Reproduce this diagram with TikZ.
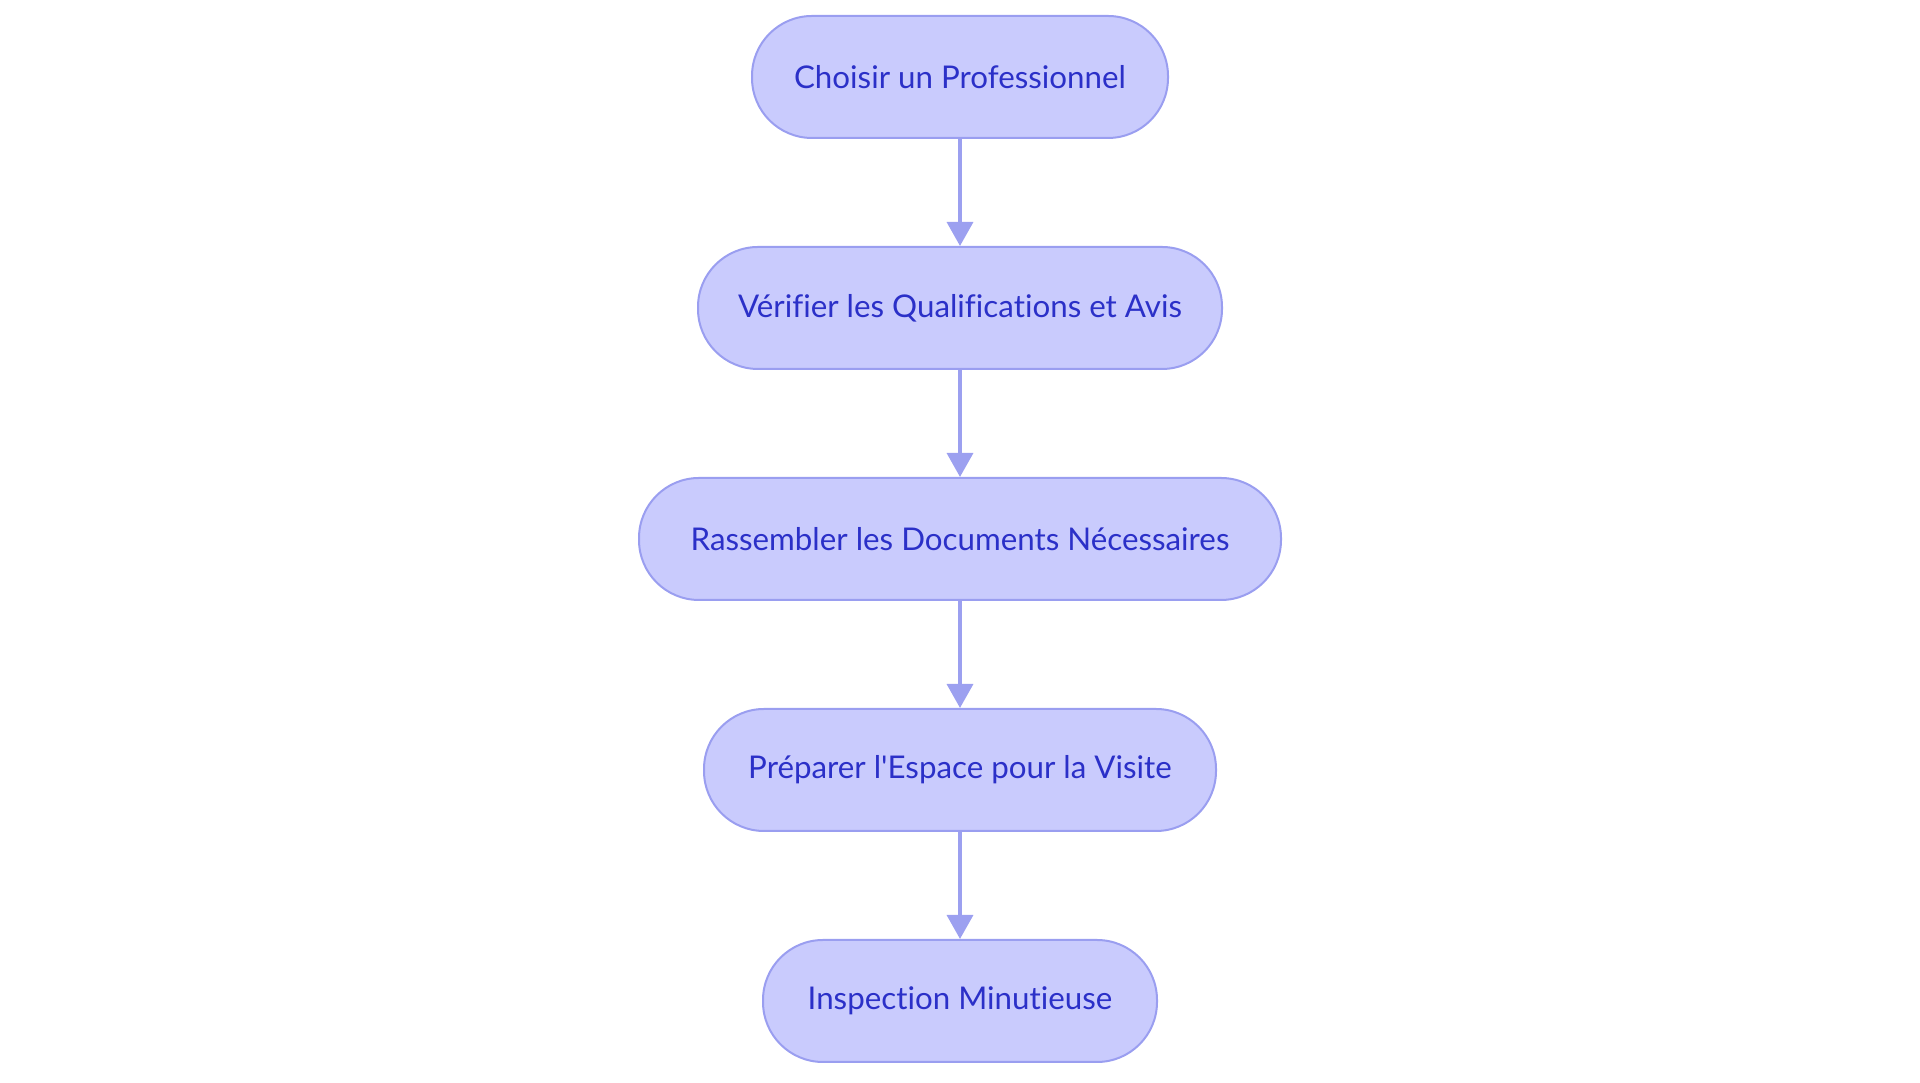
\documentclass[tikz,border=0pt]{standalone}
\usepackage{fontspec}
\setmainfont{Lato}[Ligatures={NoCommon}]
\usetikzlibrary{arrows.meta}
\definecolor{boxfill}{HTML}{C9CBFD}
\definecolor{boxline}{HTML}{9A9EF0}
\definecolor{boxtext}{HTML}{2B30C8}
\definecolor{arrowcol}{HTML}{9CA0F0}
\tikzset{
  stepbox/.style={draw=boxline, fill=boxfill, line width=2pt, rounded corners=60pt,
    minimum height=122pt, text=boxtext, font=\fontsize{31.3}{36}\selectfont, inner sep=0pt},
  flowarrow/.style={draw=arrowcol, line width=3.5pt, -{Triangle[length=24pt,width=26pt]}}
}
\begin{document}
\begin{tikzpicture}[x=1pt,y=1pt]
\useasboundingbox (0,0) rectangle (1920,1083);
\node[stepbox, minimum width=416pt] (n1) at (960,1083-77) {Choisir un Professionnel};
\node[stepbox, minimum width=524pt] (n2) at (960,1083-308) {Vérifier les Qualifications et Avis};
\node[stepbox, minimum width=642pt] (n3) at (960,1083-539) {Rassembler les Documents Nécessaires};
\node[stepbox, minimum width=512pt] (n4) at (960,1083-770) {Préparer l\textquotesingle Espace pour la Visite};
\node[stepbox, minimum width=394pt] (n5) at (960,1083-1001) {Inspection Minutieuse};
\draw[flowarrow] (n1.south) -- (n2.north);
\draw[flowarrow] (n2.south) -- (n3.north);
\draw[flowarrow] (n3.south) -- (n4.north);
\draw[flowarrow] (n4.south) -- (n5.north);
\end{tikzpicture}
\end{document}
